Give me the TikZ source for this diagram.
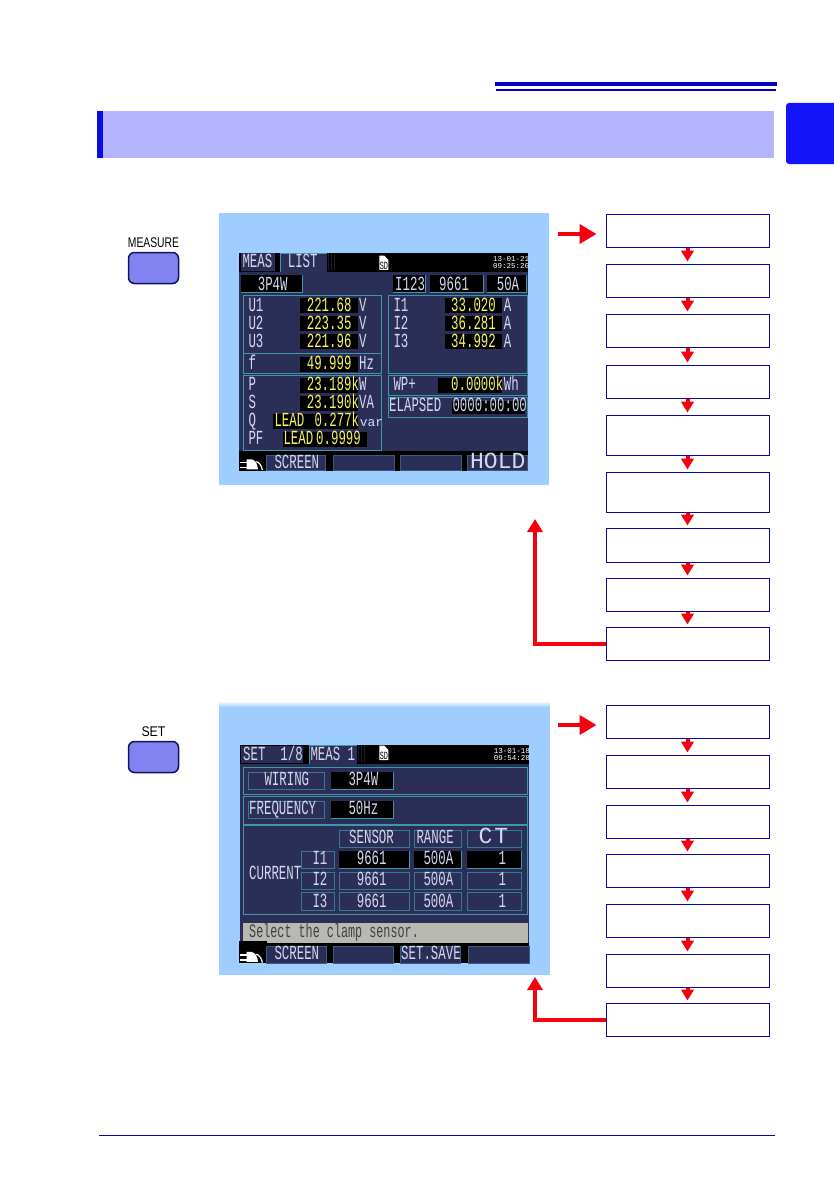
\documentclass[tikz,border=0pt]{standalone}
\usepackage{fontspec}
\usetikzlibrary{arrows.meta}
\newfontfamily\lcdfont[FakeStretch=0.62]{Liberation Mono}
\newfontfamily\lcdwide{Liberation Mono}
\newfontfamily\keyfont[FakeStretch=0.74]{Liberation Sans}
\newfontfamily\keyfontb[FakeStretch=0.88]{Liberation Sans}
\definecolor{pagerule}{HTML}{0000CC}
\definecolor{bandfill}{HTML}{B4B4FF}
\definecolor{bandbar}{HTML}{0A0AE6}
\definecolor{tabfill}{HTML}{1414FA}
\definecolor{panelfill}{HTML}{A0CDFF}
\definecolor{lcdbg}{HTML}{2B2F57}
\definecolor{lcdedge}{HTML}{3F98A8}
\definecolor{lcdtext}{HTML}{D5D8EE}
\definecolor{lcdyellow}{HTML}{F5F560}
\definecolor{msgfill}{HTML}{B9B9B4}
\definecolor{boxline}{HTML}{0A0AA0}
\definecolor{keyfill}{HTML}{8282F0}
\definecolor{keyline}{HTML}{12125E}
\definecolor{flowred}{HTML}{F5000F}
\tikzset{
  lcdlbl/.style={font=\lcdfont\fontsize{20}{20}\selectfont,text=lcdtext,inner sep=0pt,anchor=base west},
  lcdval/.style={lcdlbl,text=lcdyellow},
  lcdbig/.style={lcdlbl,font=\lcdwide\fontsize{23}{23}\selectfont},
  lcdsmall/.style={font=\lcdwide\fontsize{7.5}{6.5}\selectfont,text=white,inner sep=0pt,align=left,anchor=west},
  panelrim/.style={draw=lcdedge,line width=.8pt},
  softkey/.style={fill=lcdbg,draw=lcdedge!45!lcdbg,line width=.5pt},
  flowbox/.style={draw=boxline,line width=1pt,fill=white,minimum width=163pt,inner sep=0pt},
  stepline/.style={draw=flowred,line width=4pt,shorten >=2pt,-{Triangle[length=11pt,width=12.5pt]}},
  enterline/.style={draw=flowred,line width=4.5pt,shorten >=9pt,-{Triangle[length=17pt,width=19pt]}},
  backline/.style={draw=flowred,line width=4pt,-{Triangle[length=13pt,width=15pt]}},
  keycap/.style={draw=keyline,line width=1.5pt,fill=keyfill,rounded corners=6pt,minimum width=50pt,minimum height=31pt,inner sep=0pt},
  keylabel/.style={font=\keyfont\fontsize{14}{14}\selectfont,text=black,inner sep=0pt}
}
\newcommand{\plugicon}[1]{
  \fill[black] (72,722) rectangle (155,{782+#1});
  \begin{scope}[shift={(0,#1)}]
  \draw[white,line width=1.4pt] (75,757) -- (96,757) (75,772) -- (96,772);
  \fill[white] (95,748) -- (110,748) .. controls (122,750) and (128,765) .. (129,778) -- (95,778) -- cycle;
  \draw[white,line width=1.2pt] (122,755) .. controls (132,755) and (140,767) .. (142,780);
  \end{scope}
}
\newcommand{\sdicon}[1]{
  \fill[white] (493,137) -- (508,137) -- (520,150) -- (520,180) -- (493,180) -- cycle;
  \node[font=\lcdfont\fontsize{11}{11}\selectfont,text=black,inner sep=0pt] (#1) at (507,169) {SD};
}
\begin{document}
\begin{tikzpicture}[x=1pt,y=-1pt]
\useasboundingbox (0,0) rectangle (834,1180);

\fill[pagerule] (495,82) rectangle (777,86.5);
\fill[pagerule] (496,89) rectangle (776,91);
\fill[bandfill] (97,111) rectangle (774,158);
\fill[bandbar] (97,111) rectangle (103,158);
\fill[tabfill,rounded corners=3pt] (834,103) -- (786,103) -- (786,164) -- (834,164);
\draw[boxline,line width=1pt] (99,1135) -- (775,1135);

\node[keycap] (keyA) at (153.5,268) {};
\node[keylabel,above=4pt] (keyAtxt) at (keyA.north) {MEASURE};
\node[keycap] (keyB) at (153.5,757) {};
\node[keylabel,font=\keyfontb\fontsize{14}{14}\selectfont,above=4pt] (keyBtxt) at (keyB.north) {SET};

\fill[panelfill] (219,213) rectangle (549,485);
\fill[panelfill] (219,707) rectangle (550,975);
\shade[top color=white,bottom color=panelfill] (219,701) rectangle (550,707);

\begin{scope}[shift={(215,210)},x=.3333pt,y=-.3333pt]
\fill[lcdbg] (72,128) rectangle (938,782);
\fill[black] (72,128) rectangle (938,186);
\fill[lcdbg] (78,130) rectangle (180,182);
\fill[lcdbg] (195,130) rectangle (335,186);
\draw[lcdedge,line width=.8pt] (195,186) -- (195,129) -- (335,129);
\foreach \xx in {340,348,356}
  \fill[lcdbg!60!black] (\xx,130) rectangle ++(2,50);
\sdicon{asd}
\node[lcdsmall] (adate) at (834,157) {13-01-21\\09:25:26};
\foreach \xa/\xb in {78/262,535/632,645/805,817/935}{
  \fill[black] (\xa,195) rectangle (\xb,248);
  \draw[lcdedge,line width=.6pt] (\xb,195) -- (\xb,248) -- (\xa,248);
}
\draw[panelrim] (85,428) -- (85,257) -- (498,257) -- (498,490) -- (85,490) -- cycle;
\draw[panelrim] (85,430) -- (498,430);
\draw[panelrim] (85,722) -- (85,495) -- (498,495) -- (498,722) -- cycle;
\draw[panelrim] (520,257) rectangle (938,490);
\draw[panelrim] (520,495) rectangle (938,555);
\draw[panelrim] (520,562) rectangle (938,622);
\foreach \xa/\ya/\xb/\yb in {255/265/428/310,255/318/428/364,255/372/428/418,255/440/428/485,
  255/505/428/548,255/558/428/602,175/612/428/656,203/666/455/710,
  690/265/862/310,690/318/862/364,690/372/862/418,668/503/862/548,712/572/930/612}
  \fill[black] (\xa,\ya) rectangle (\xb,\yb);
\fill[black] (72,722) rectangle (938,782);
\plugicon{0}
\foreach \xa/\xb in {155/332,355/537,555/738,758/938}
  \fill[softkey] (\xa,735) rectangle (\xb,782);
\foreach \nm/\xx/\yy/\txt in {aMeas/82/172/MEAS,aList/218/172/LIST,aSys/128/242/3P4W,aInp/540/242/I123,aClamp/672/242/9661,aRng/845/242/50A,
  aU1/100/305/U1,aU2/100/360/U2,aU3/100/414/U3,aV1/432/305/V,aV2/432/360/V,aV3/432/414/V,
  aF/100/478/f,aHz/432/478/Hz,aP/100/543/P,aW/432/543/W,aS/100/597/S,aVa/432/597/VA,aQ/100/651/Q,aPf/100/705/PF,
  aI1/535/305/I1,aI2/535/360/I2,aI3/535/414/I3,aA1/866/305/A,aA2/866/360/A,aA3/866/414/A,
  aWp/535/541/WP+,aWh/866/541/Wh,aEl/522/605/ELAPSED,aClock/712/605/0000:00:00,aScr/178/775/SCREEN}
  \node[lcdlbl] (\nm) at (\xx,\yy) {\txt};
\node[lcdbig] (aHold) at (765,775) {HOLD};
\node[lcdlbl,font=\lcdwide\fontsize{13}{13}\selectfont] (aVar) at (434,651) {var};
\foreach \nm/\xx/\yy/\txt in {aUa/275/305/221.68,aUb/275/360/223.35,aUc/275/414/221.96,aFq/275/478/49.999,
  aPw/275/543/23.189k,aSw/275/597/23.190k,aLa/178/651/LEAD,aQw/298/651/0.277k,aLb/205/705/LEAD,aPw2/303/705/0.9999,
  aIa/708/305/33.020,aIb/708/360/36.281,aIc/708/414/34.992,aEn/708/541/0.0000k}
  \node[lcdval] (\nm) at (\xx,\yy) {\txt};
\end{scope}

\begin{scope}[shift={(215,700)},x=.3333pt,y=-.3333pt]
\fill[lcdbg] (75,135) rectangle (942,790);
\fill[black] (75,135) rectangle (942,192);
\fill[lcdbg] (78,137) rectangle (265,188);
\fill[lcdbg] (283,137) rectangle (425,192);
\draw[lcdedge,line width=.8pt] (283,192) -- (283,136) -- (425,136);
\foreach \xx in {430,438,446}
  \fill[lcdbg!60!black] (\xx,137) rectangle ++(2,50);
\sdicon{bsd}
\node[lcdsmall] (bdate) at (836,164) {13-01-18\\09:54:28};
\draw[panelrim] (85,202) rectangle (938,283);
\draw[panelrim] (85,290) rectangle (938,372);
\draw[panelrim] (85,377) rectangle (938,643);
\foreach \xa/\ya/\xb/\yb in {100/217/328/268,100/304/328/356,372/390/583/443,598/390/740/443,757/390/920/443,
  258/453/358/505,258/516/358/568,258/578/358/632,372/516/583/568,598/516/740/568,757/516/920/568,
  372/578/583/632,598/578/740/632,757/578/920/632}
  \draw[lcdedge!70!lcdbg,line width=.7pt] (\xa,\ya) rectangle (\xb,\yb);
\foreach \xa/\ya/\xb/\yb in {348/217/535/268,348/304/535/356,372/453/583/505,598/453/740/505,757/453/920/505}{
  \fill[black] (\xa,\ya) rectangle (\xb,\yb);
  \draw[lcdedge,line width=.6pt] (\xb,\ya) -- (\xb,\yb) -- (\xa,\yb);
}
\fill[msgfill] (85,668) rectangle (938,730);
\fill[black] (75,730) rectangle (942,790);
\plugicon{8}
\foreach \xa/\xb in {155/335,355/535,555/737,760/942}
  \fill[softkey] (\xa,740) rectangle (\xb,790);
\foreach \nm/\xx/\yy/\txt in {bSet/84/180/{SET\ \ 1/8},bMeas/286/180/{MEAS 1},bWire/148/258/WIRING,bSys/400/258/3P4W,
  bFrq/102/343/FREQUENCY,bHz/400/343/50Hz,bSen/402/432/SENSOR,bRng/604/432/RANGE,
  bI1/292/495/I1,bI2/292/558/I2,bI3/292/622/I3,bCur/102/538/CURRENT,
  bC1/425/495/9661,bC2/425/558/9661,bC3/425/622/9661,bR1/625/495/500A,bR2/625/558/500A,bR3/625/622/500A,
  bT1/850/495/1,bT2/850/558/1,bT3/850/622/1,bScr/178/780/SCREEN,bSave/558/780/SET.SAVE}
  \node[lcdlbl] (\nm) at (\xx,\yy) {\txt};
\node[lcdbig] (bCt) at (790,432) {C\hspace{2pt}T};
\node[lcdlbl,text=black!75,font=\lcdfont\fontsize{19}{19}\selectfont] (bMsg) at (102,712) {Select the clamp sensor.};
\end{scope}

\foreach \nm/\ya/\yb in {mA/214/247,mB/264/297,mC/314/347,mD/365/398,mE/415/455,mF/472/512,mG/528/562,mH/578/611,mI/627/660}
  \node[flowbox,minimum height={\yb-\ya}] (\nm) at (687.5,{(\ya+\yb)/2}) {};
\foreach \nm/\ya/\yb in {sA/705/738,sB/755/788,sC/805/838,sD/854/887,sE/904/937,sF/954/987,sG/1003/1036}
  \node[flowbox,minimum height={\yb-\ya}] (\nm) at (687.5,{(\ya+\yb)/2}) {};
\foreach \a/\b in {mA/mB,mB/mC,mC/mD,mD/mE,mE/mF,mF/mG,mG/mH,mH/mI,sA/sB,sB/sC,sC/sD,sD/sE,sE/sF,sF/sG}
  \draw[stepline] (\a) -- (\b);

\coordinate (inA) at (558,234);
\coordinate (inB) at (558,725);
\draw[enterline] (inA) -- (mA.west |- inA);
\draw[enterline] (inB) -- (sA.west |- inB);
\coordinate (backA) at (535,519);
\coordinate (backB) at (535,977);
\draw[backline] (mI.west) -| (backA);
\draw[backline] (sG.west) -| (backB);
\end{tikzpicture}
\end{document}
